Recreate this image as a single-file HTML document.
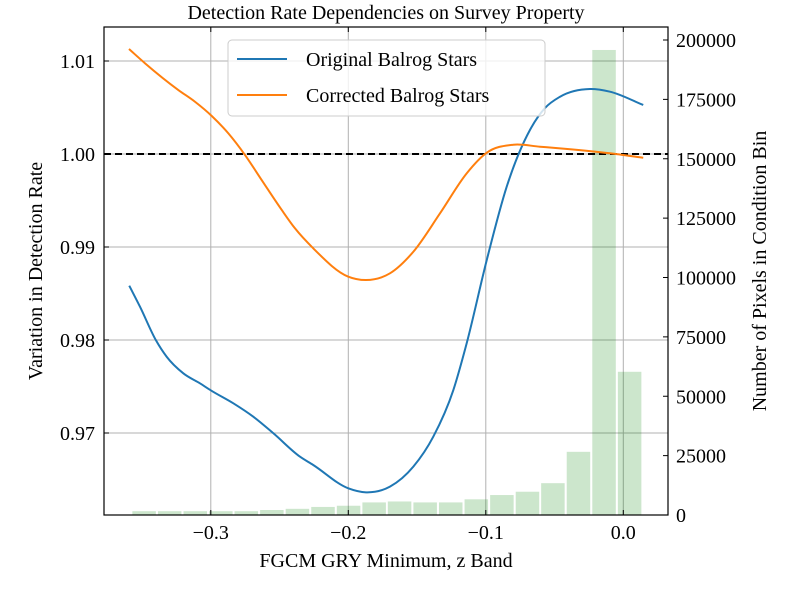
<!DOCTYPE html>
<html><head><meta charset="utf-8"><style>
html,body{margin:0;padding:0;background:#fff}
svg{display:block;font-family:"Liberation Serif",serif}
</style></head><body>
<svg id="chart" width="800" height="600" viewBox="0 0 800 600" xmlns="http://www.w3.org/2000/svg">
<rect width="800" height="600" fill="#fff"/>
<g id="grid"></g>
<g id="bars"></g>
<g id="series"></g>
<g id="axes"></g>
<text x="386" y="19" font-size="20" text-anchor="middle">Detection Rate Dependencies on Survey Property</text>
<text x="386" y="567" font-size="20" text-anchor="middle">FGCM GRY Minimum, z Band</text>
<text transform="translate(42,271) rotate(-90)" font-size="20" text-anchor="middle">Variation in Detection Rate</text>
<text transform="translate(766,271) rotate(-90)" font-size="20" text-anchor="middle">Number of Pixels in Condition Bin</text>
<g>
<rect x="228" y="40" width="317" height="76" rx="4" fill="#fff" fill-opacity="0.8" stroke="#ccc" stroke-width="1"/>
<g><line x1="237" y1="59" x2="287" y2="59" stroke="#1f77b4" stroke-width="2"/><text x="306" y="66" font-size="20">Original Balrog Stars</text></g>
<g><line x1="237" y1="95" x2="287" y2="95" stroke="#ff7f0e" stroke-width="2"/><text x="306" y="102" font-size="20">Corrected Balrog Stars</text></g>
</g>
</svg>
<script>
const xTicks=[-0.3,-0.2,-0.1,0.0];
const xTickLabels=["\u22120.3","\u22120.2","\u22120.1","0.0"];
const yTicks=[0.97,0.98,0.99,1.00,1.01];
const yTickLabels=["0.97","0.98","0.99","1.00","1.01"];
const y2Ticks=[0,25000,50000,75000,100000,125000,150000,175000,200000];
const binCenters=[-0.3485,-0.3299,-0.3113,-0.2927,-0.2742,-0.2556,-0.2370,-0.2184,-0.1998,-0.1812,-0.1627,-0.1441,-0.1255,-0.1069,-0.0883,-0.0697,-0.0512,-0.0326,-0.0140,0.0046];
const binCounts=[1600,1600,1600,1600,1600,2100,2600,3400,3900,5300,5700,5300,5300,6600,8400,9800,13400,26600,195800,60300];
const binWidth=0.0171;
const origX=[-0.3593,-0.3515,-0.3399,-0.3321,-0.3200,-0.3079,-0.2996,-0.2836,-0.2691,-0.2545,-0.2351,-0.2255,-0.2000,-0.1871,-0.1697,-0.1527,-0.1382,-0.1236,-0.1139,-0.0993,-0.0848,-0.0679,-0.0569,-0.0460,-0.0242,-0.0097,0.0145];
const origY=[0.98584,0.98358,0.97997,0.97820,0.97642,0.97534,0.97455,0.97319,0.97175,0.96997,0.96745,0.96656,0.96405,0.96362,0.96423,0.96638,0.96960,0.97462,0.97965,0.98860,0.99648,1.00258,1.00495,1.00616,1.00699,1.00670,1.00527];
const corrX=[-0.3595,-0.3478,-0.3236,-0.3115,-0.2993,-0.2873,-0.2751,-0.2630,-0.2484,-0.2388,-0.2255,-0.2000,-0.1871,-0.1697,-0.1527,-0.1333,-0.1139,-0.0993,-0.0800,-0.0606,-0.0460,-0.0097,0.0145];
const corrY=[1.01129,1.00975,1.00688,1.00562,1.00409,1.00223,0.99989,0.99720,0.99398,0.99201,0.98986,0.98681,0.98645,0.98717,0.98949,0.99362,0.99792,1.00014,1.00100,1.00078,1.00061,1.00008,0.99960];

const L=104,R=668,T=27,B=515;
const NS="http://www.w3.org/2000/svg";
function xs(v){return 623.3+v*1375;}
function ys(v){return 154-(v-1.0)*9300;}
function y2s(v){return B-v*475/200000;}
function mk(tag,attrs,parent){const e=document.createElementNS(NS,tag);for(const k in attrs)e.setAttribute(k,attrs[k]);parent.appendChild(e);return e;}
const grid=document.getElementById('grid'),bars=document.getElementById('bars'),series=document.getElementById('series'),axes=document.getElementById('axes');

xTicks.forEach(t=>{const l=mk('line',{x1:xs(t),x2:xs(t),y1:T,y2:B,stroke:'#b0b0b0','stroke-width':1},grid);

});
yTicks.forEach(t=>{const l=mk('line',{x1:L,x2:R,y1:ys(t),y2:ys(t),stroke:'#b0b0b0','stroke-width':1},grid);

});

function path(xa,ya){const p=xa.map((x,i)=>[xs(x),ys(ya[i])]);const n=p.length;
const sec=[];for(let i=0;i<n-1;i++)sec.push((p[i+1][1]-p[i][1])/(p[i+1][0]-p[i][0]));
const m=[];for(let i=0;i<n;i++){if(i===0)m.push(sec[0]);else if(i===n-1)m.push(sec[n-2]);else{const h0=p[i][0]-p[i-1][0],h1=p[i+1][0]-p[i][0];m.push((sec[i-1]*h1+sec[i]*h0)/(h0+h1));}}
let d='M'+p[0][0]+','+p[0][1];
for(let i=0;i<n-1;i++){const h=(p[i+1][0]-p[i][0])/3;
d+=' C'+(p[i][0]+h)+','+(p[i][1]+m[i]*h)+' '+(p[i+1][0]-h)+','+(p[i+1][1]-m[i+1]*h)+' '+p[i+1][0]+','+p[i+1][1];}
return d;}
const dash=mk('line',{x1:L,x2:R,y1:ys(1.0),y2:ys(1.0),stroke:'#000','stroke-width':2,'stroke-dasharray':'7,4'},series);


const o=mk('path',{d:path(origX,origY),fill:'none',stroke:'#1f77b4','stroke-width':2},series);


const c=mk('path',{d:path(corrX,corrY),fill:'none',stroke:'#ff7f0e','stroke-width':2},series);



binCenters.forEach((cx,i)=>{const x0=xs(cx-binWidth/2),x1=xs(cx+binWidth/2);
const r=mk('rect',{x:x0,y:y2s(binCounts[i]),width:x1-x0,height:B-y2s(binCounts[i]),fill:'#008000','fill-opacity':0.2},bars);

});

mk('rect',{x:L,y:T,width:R-L,height:B-T,fill:'none',stroke:'#000','stroke-width':1.2},axes);
xTicks.forEach((t,i)=>{mk('line',{x1:xs(t),x2:xs(t),y1:B,y2:B-5,stroke:'#000'},axes);mk('line',{x1:xs(t),x2:xs(t),y1:T,y2:T+5,stroke:'#000'},axes);
const tx=mk('text',{x:xs(t),y:B+24,'font-size':20,'text-anchor':'middle'},axes);tx.textContent=xTickLabels[i];

});
yTicks.forEach((t,i)=>{mk('line',{x1:L,x2:L+5,y1:ys(t),y2:ys(t),stroke:'#000'},axes);
const tx=mk('text',{x:L-9,y:ys(t)+7,'font-size':20,'text-anchor':'end'},axes);tx.textContent=yTickLabels[i];

});
y2Ticks.forEach(t=>{mk('line',{x1:R,x2:R-5,y1:y2s(t),y2:y2s(t),stroke:'#000'},axes);
const tx=mk('text',{x:R+8,y:y2s(t)+7,'font-size':20,'text-anchor':'start'},axes);tx.textContent=String(t);

});
</script>
</body></html>
